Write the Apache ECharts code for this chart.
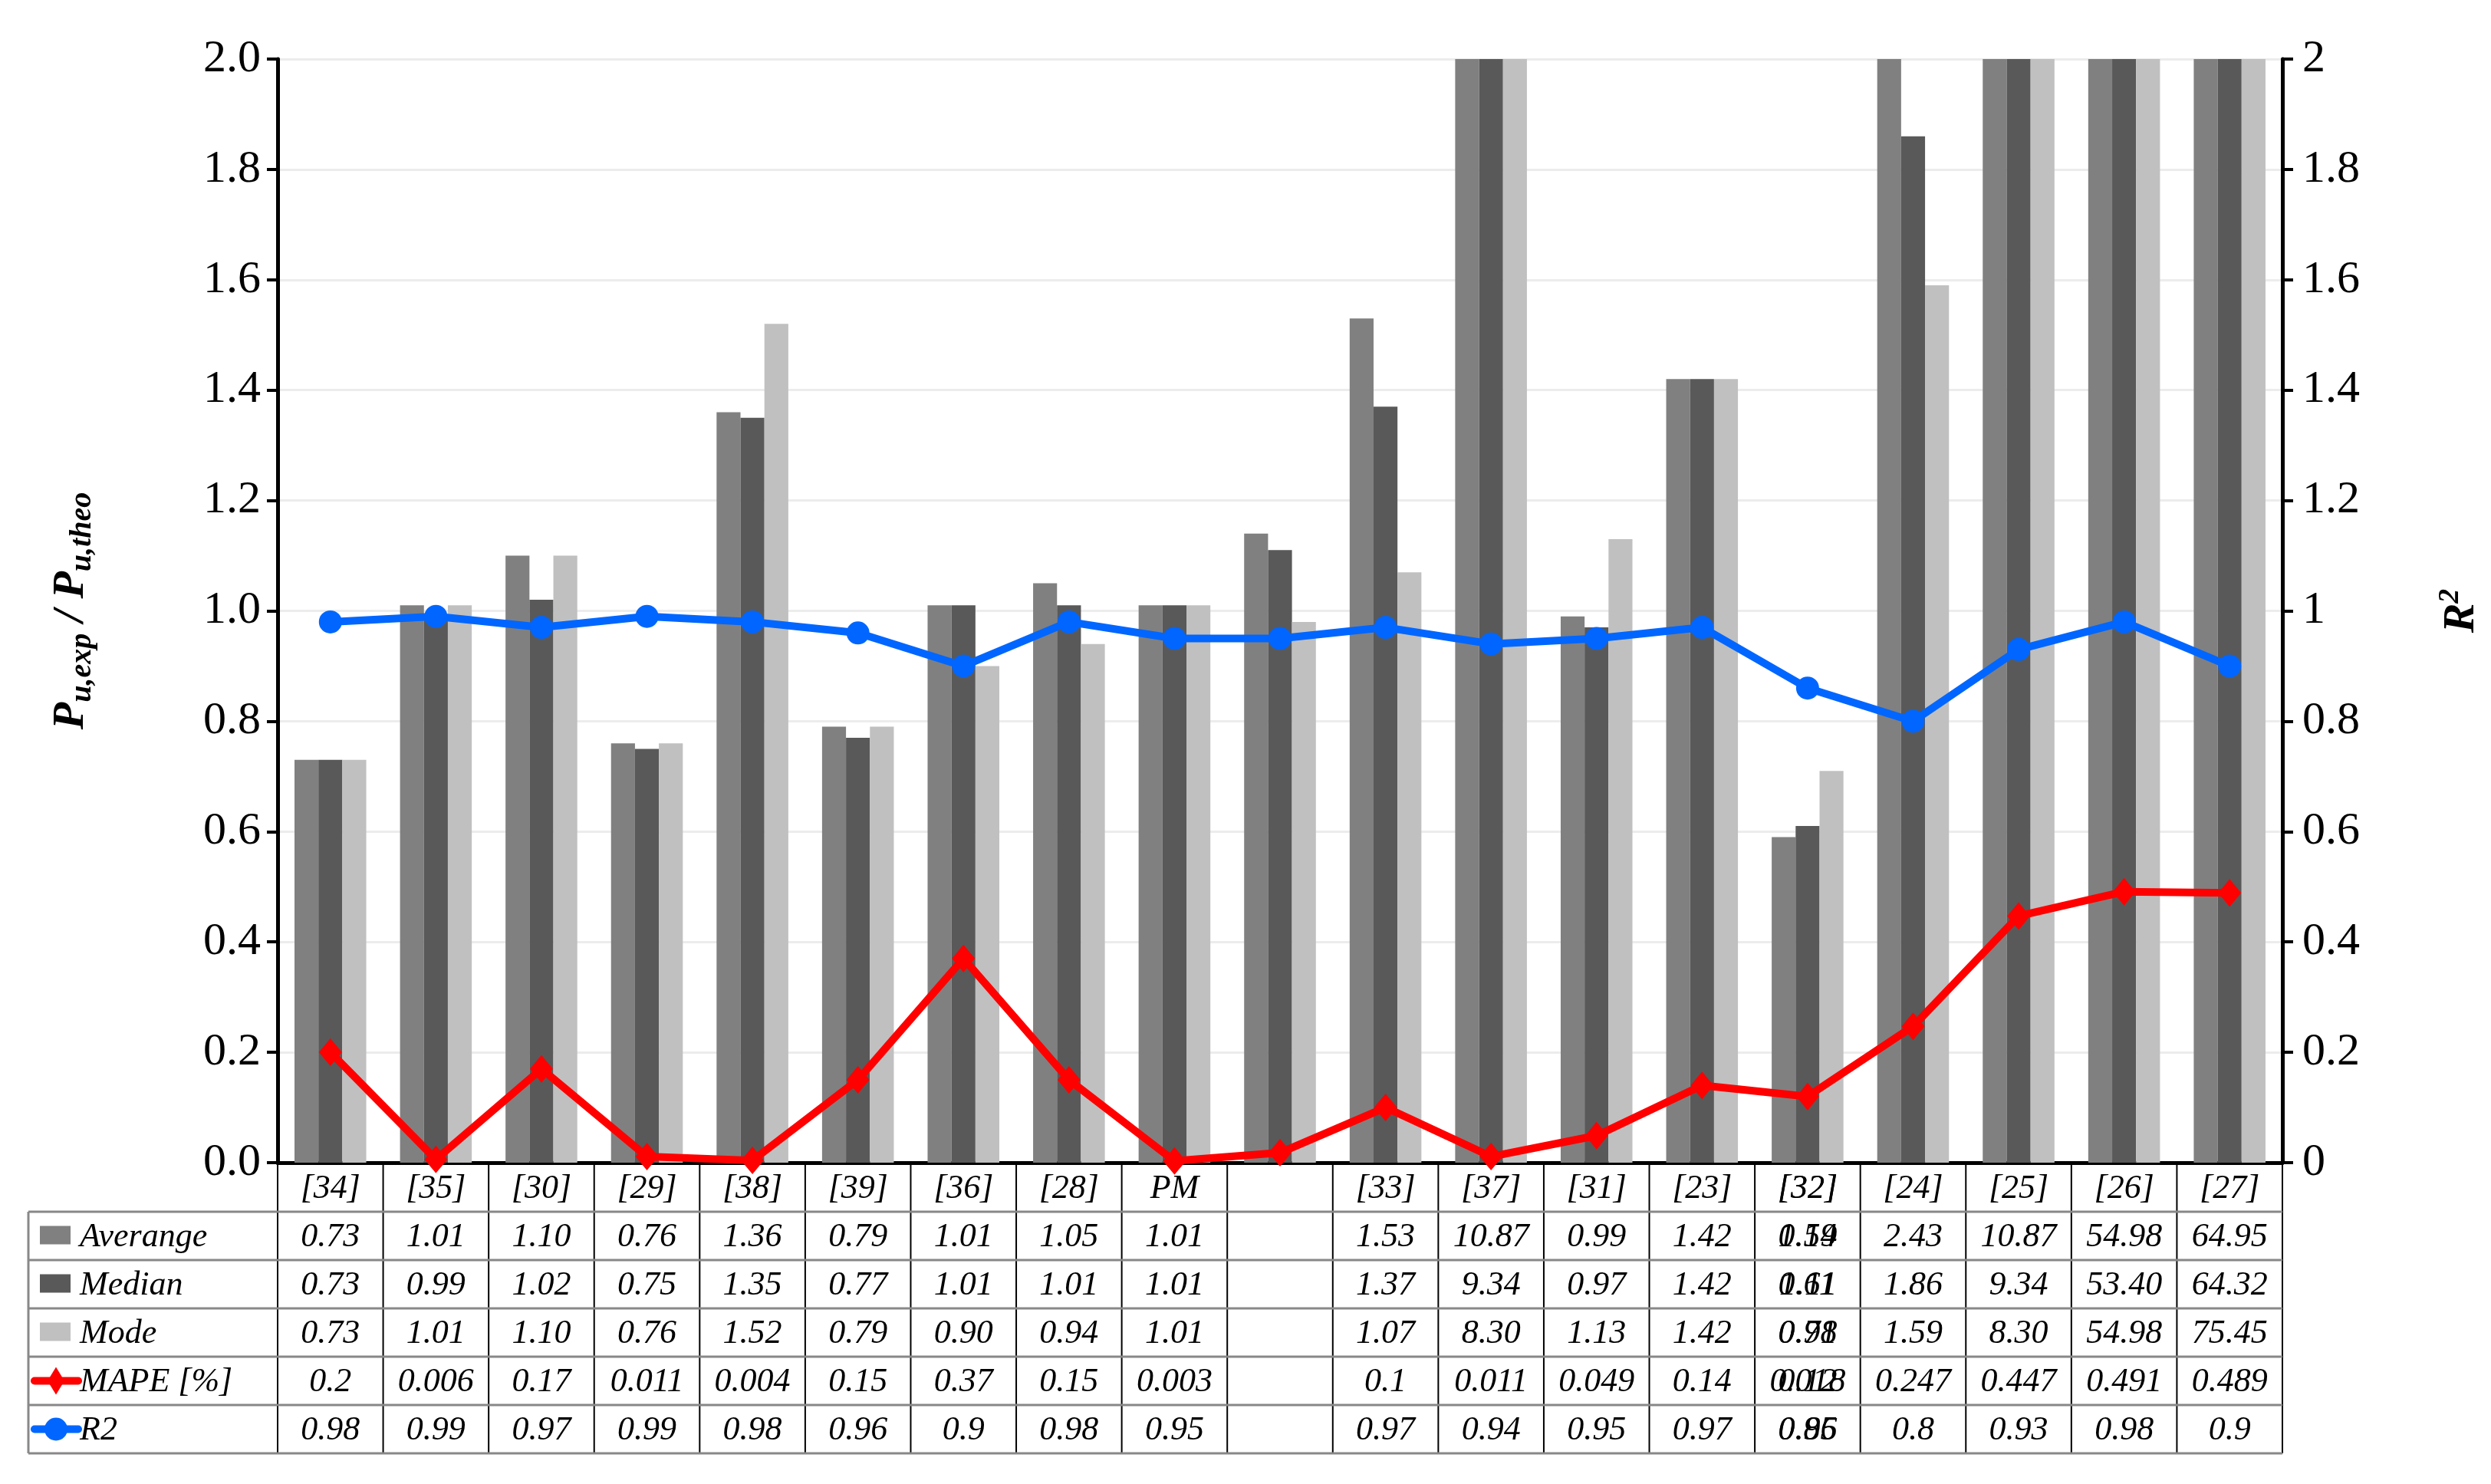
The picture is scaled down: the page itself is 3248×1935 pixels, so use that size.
<!DOCTYPE html>
<html><head><meta charset="utf-8">
<script src="https://cdn.jsdelivr.net/npm/echarts@6/dist/echarts.min.js"></script>
<style>html,body{margin:0;padding:0;background:#fff}#c{width:3248px;height:1935px}</style>
</head><body><div id="c"></div>
<script>
const categories = ['[34]','[35]','[30]','[29]','[38]','[39]','[36]','[28]','PM','[32]','[33]','[37]','[31]','[23]','[32]','[24]','[25]','[26]','[27]'];
const averageVals = [0.73,1.01,1.10,0.76,1.36,0.79,1.01,1.05,1.01,1.14,1.53,10.87,0.99,1.42,0.59,2.43,10.87,54.98,64.95];
const medianVals  = [0.73,0.99,1.02,0.75,1.35,0.77,1.01,1.01,1.01,1.11,1.37,9.34,0.97,1.42,0.61,1.86,9.34,53.40,64.32];
const modeVals    = [0.73,1.01,1.10,0.76,1.52,0.79,0.90,0.94,1.01,0.98,1.07,8.30,1.13,1.42,0.71,1.59,8.30,54.98,75.45];
const mapeVals    = [0.2,0.006,0.17,0.011,0.004,0.15,0.37,0.15,0.003,0.018,0.1,0.011,0.049,0.14,0.12,0.247,0.447,0.491,0.489];
const r2Vals      = [0.98,0.99,0.97,0.99,0.98,0.96,0.9,0.98,0.95,0.95,0.97,0.94,0.95,0.97,0.86,0.8,0.93,0.98,0.9];
const avgLabels = ['0.73','1.01','1.10','0.76','1.36','0.79','1.01','1.05','1.01','1.14','1.53','10.87','0.99','1.42','0.59','2.43','10.87','54.98','64.95'];
const medLabels = ['0.73','0.99','1.02','0.75','1.35','0.77','1.01','1.01','1.01','1.11','1.37','9.34','0.97','1.42','0.61','1.86','9.34','53.40','64.32'];
const modeLabels = ['0.73','1.01','1.10','0.76','1.52','0.79','0.90','0.94','1.01','0.98','1.07','8.30','1.13','1.42','0.71','1.59','8.30','54.98','75.45'];
const mapeLabels = ['0.2','0.006','0.17','0.011','0.004','0.15','0.37','0.15','0.003','0.018','0.1','0.011','0.049','0.14','0.12','0.247','0.447','0.491','0.489'];
const r2Labels = ['0.98','0.99','0.97','0.99','0.98','0.96','0.9','0.98','0.95','0.95','0.97','0.94','0.95','0.97','0.86','0.8','0.93','0.98','0.9'];
const rowNames = ['Averange','Median','Mode','MAPE [%]','R2'];
const leftTicks = ['0.0','0.2','0.4','0.6','0.8','1.0','1.2','1.4','1.6','1.8','2.0'];

const FONT = 'Liberation Serif';
const colors = ['#808080','#595959','#c0c0c0'];
const chart = echarts.init(document.getElementById('c'));
const G = {left:362, right:3248-2976, top:77, height:1516-77};
chart.setOption({
  animation:false,
  grid:G,
  xAxis:{type:'category',data:categories,axisTick:{show:false},axisLabel:{show:false},
    axisLine:{lineStyle:{color:'#000',width:5}}},
  yAxis:[
    {type:'value',min:0,max:2,interval:0.2,
     axisLine:{show:true,lineStyle:{color:'#000',width:5}},axisTick:{show:true,inside:false,length:14,lineStyle:{width:4,color:'#000'}},
     splitLine:{lineStyle:{color:'#ececec',width:3}},
     axisLabel:{fontFamily:FONT,fontSize:60,color:'#000',margin:22,formatter:(v)=>leftTicks[Math.round(v/0.2)]},
     name:'{b|P}{s|u,exp}{b| / P}{s|u,theo}',nameLocation:'middle',nameGap:240,nameRotate:90,
     nameTextStyle:{rich:{b:{fontFamily:FONT,fontSize:58,fontWeight:'bold',fontStyle:'italic',color:'#000'},
       s:{fontFamily:FONT,fontSize:40,fontWeight:'bold',fontStyle:'italic',color:'#000',padding:[0,0,-30,0]}}}},
    {type:'value',min:0,max:2,interval:0.2,position:'right',
     axisLine:{show:true,lineStyle:{color:'#000',width:5}},axisTick:{show:true,length:14,lineStyle:{width:4,color:'#000'}},
     splitLine:{show:false},
     axisLabel:{fontFamily:FONT,fontSize:60,color:'#000',margin:26,formatter:(v)=>String(Math.round(v*10)/10)},
     name:'{b|R}{p|2}',nameLocation:'middle',nameGap:200,nameRotate:90,
     nameTextStyle:{rich:{b:{fontFamily:FONT,fontSize:58,fontWeight:'bold',fontStyle:'italic',color:'#000'},
       p:{fontFamily:FONT,fontSize:38,fontWeight:'bold',fontStyle:'italic',color:'#000',padding:[0,0,30,0]}}}}
  ],
  series:[
    {type:'bar',data:averageVals,itemStyle:{color:colors[0]},barGap:'0%',barCategoryGap:'32%',clip:true},
    {type:'bar',data:medianVals,itemStyle:{color:colors[1]},barGap:'0%',barCategoryGap:'32%',clip:true},
    {type:'bar',data:modeVals,itemStyle:{color:colors[2]},barGap:'0%',barCategoryGap:'32%',clip:true},
    {type:'line',yAxisIndex:1,data:mapeVals,symbol:'diamond',symbolSize:[30,36],lineStyle:{color:'#ff0000',width:10},itemStyle:{color:'#ff0000'}},
    {type:'line',yAxisIndex:1,data:r2Vals,symbol:'circle',symbolSize:30,lineStyle:{color:'#0066ff',width:10},itemStyle:{color:'#0066ff'}}
  ]
});

// table
const yAxisBot = 1516, catBot = 1580, rowH = 63, tLeft = 37, tRight = 2976, plotL = 362;
const n = categories.length;
const cw = (tRight - plotL) / n;
const els = [];
const txt = {fontFamily:FONT,fontSize:44,fontStyle:'italic',fill:'#000'};
const tableBot = catBot + rowH*5;
// vertical lines
for (let i=0;i<=n;i++){
  const x = plotL + cw*i;
  els.push({type:'line',shape:{x1:x,y1:yAxisBot,x2:x,y2:tableBot},style:{stroke:'#000',lineWidth:2}});
}
els.push({type:'line',shape:{x1:tLeft,y1:catBot,x2:tLeft,y2:tableBot},style:{stroke:'#888',lineWidth:3}});
for (let r=0;r<=5;r++){
  const y = catBot + rowH*r;
  els.push({type:'line',shape:{x1:tLeft,y1:y,x2:tRight,y2:y},style:{stroke:'#888',lineWidth:3}});
}
const rows = [avgLabels,medLabels,modeLabels,mapeLabels,r2Labels];
for (let i=0;i<n;i++){
  const cx = chart.convertToPixel({xAxisIndex:0}, categories[i]);
  els.push({type:'text',x:cx,y:(yAxisBot+catBot)/2+2,style:Object.assign({text:categories[i],align:'center',verticalAlign:'middle'},txt)});
  rows.forEach((arr,r)=>{
    els.push({type:'text',x:cx,y:catBot+rowH*r+rowH/2+2,style:Object.assign({text:arr[i],align:'center',verticalAlign:'middle'},txt)});
  });
}
// legend column
rowNames.forEach((nm,r)=>{
  const cy = catBot+rowH*r+rowH/2;
  if (r<3){
    els.push({type:'rect',shape:{x:52,y:cy-13,width:40,height:24},style:{fill:colors[r]}});
  } else {
    const c = r===3?'#ff0000':'#0066ff';
    els.push({type:'line',shape:{x1:45,y1:cy,x2:102,y2:cy},style:{stroke:c,lineWidth:10,lineCap:'round'}});
    if (r===3) els.push({type:'polygon',shape:{points:[[73,cy-18],[84,cy],[73,cy+18],[62,cy]]},style:{fill:c}});
    else els.push({type:'circle',shape:{cx:73,cy:cy,r:15},style:{fill:c}});
  }
  els.push({type:'text',x:104,y:cy+2,style:Object.assign({text:nm,align:'left',verticalAlign:'middle'},txt)});
});
chart.setOption({graphic:{elements:els}});
</script></body></html>
